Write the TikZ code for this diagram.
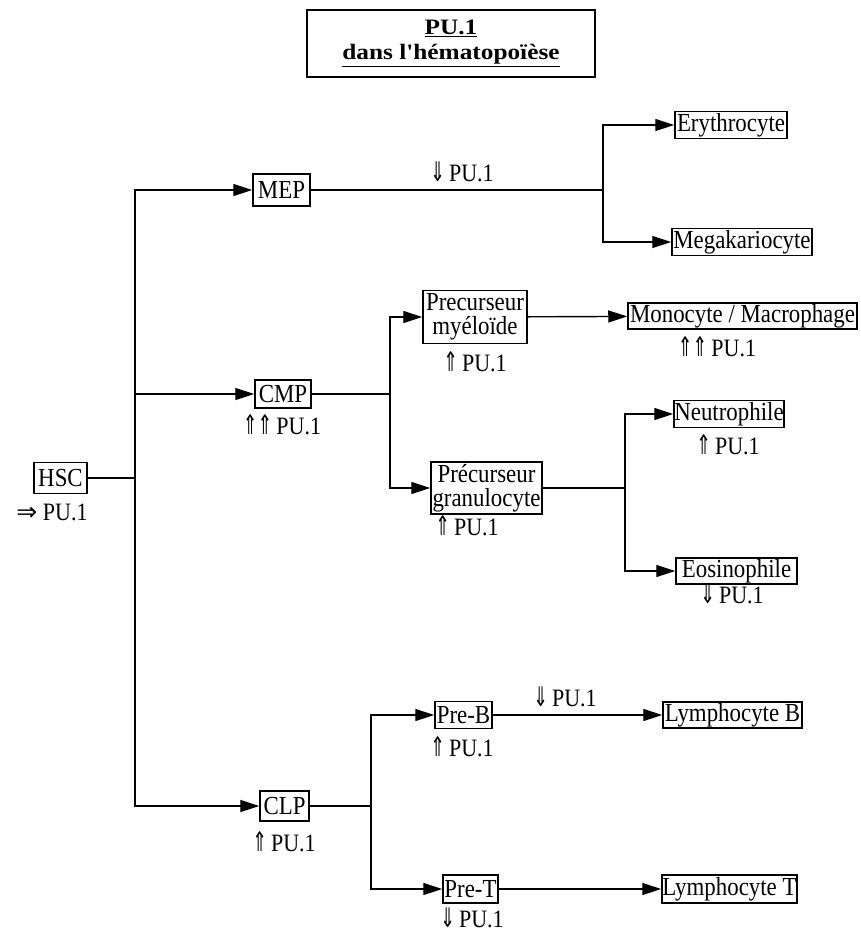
\documentclass[tikz,border=0pt]{standalone}
\usepackage{fontspec}
\setmainfont{Liberation Serif}[FakeStretch=0.88]
\newfontfamily\arrnarrow{DejaVu Sans}[FakeStretch=0.65]
\newfontfamily\arrwide{DejaVu Sans}
\newfontfamily\titlefont{Liberation Serif}[FakeStretch=1.15]
\usetikzlibrary{arrows.meta}
\newcommand{\myup}{{\fontsize{27}{25}\selectfont\arrnarrow ⇑}}
\newcommand{\mydn}{{\fontsize{27}{25}\selectfont\arrnarrow ⇓}}
\newcommand{\myrt}{{\arrwide ⇒}}
\begin{document}
\begin{tikzpicture}[x=1pt,y=-1pt,
  box/.style={draw, line width=1.5pt, inner sep=0pt, align=center, font=\fontsize{26}{24}\selectfont},
  lab/.style={inner sep=0pt, font=\fontsize{25}{25}\selectfont},
  arr/.style={-{Triangle[length=19pt,width=12pt]}, line width=1.4pt},
  ln/.style={line width=1.4pt}]
\useasboundingbox (0,0) rectangle (861,935);

% title
\node[draw, line width=2.5pt, minimum width=288, minimum height=67, inner sep=0pt,
      align=center, font=\fontsize{22}{25}\selectfont\titlefont\bfseries]
      (title) at (451,43.5) {\underline{PU.1}\\\underline{dans l'hématopoïèse}};

% nodes
\node[box, minimum width=53, minimum height=31] (hsc) at (60.5,478) {HSC};
\node[box, minimum width=57, minimum height=32] (mep) at (281.5,190) {MEP};
\node[box, minimum width=56, minimum height=28] (cmp) at (283,394) {CMP};
\node[box, minimum width=49, minimum height=30] (clp) at (284.5,806) {CLP};
\node[box, minimum width=104, minimum height=53] (pm) at (475,317) {Precurseur\\myéloïde};
\node[box, minimum width=111, minimum height=52] (pg) at (486.5,488) {Précurseur\\granulocyte};
\node[box, minimum width=112, minimum height=27] (ery) at (731,125) {Erythrocyte};
\node[box, minimum width=140, minimum height=27] (meg) at (742,242) {Megakariocyte};
\node[box, minimum width=229, minimum height=26] (mono) at (742.5,316) {Monocyte / Macrophage};
\node[box, minimum width=110, minimum height=27] (neu) at (729,414) {Neutrophile};
\node[box, minimum width=121, minimum height=26] (eos) at (736.5,571) {Eosinophile};
\node[box, minimum width=57, minimum height=27] (preb) at (463.5,715) {Pre-B};
\node[box, minimum width=139, minimum height=26] (lymb) at (732.5,715) {Lymphocyte B};
\node[box, minimum width=55, minimum height=28] (pret) at (470.5,889) {Pre-T};
\node[box, minimum width=135, minimum height=28] (lymt) at (729.5,889) {Lymphocyte T};

% junctions
\coordinate (jh) at (135,478);
\coordinate (jm) at (603,190);
\coordinate (jc) at (390,394);
\coordinate (jg) at (625,488);
\coordinate (jl) at (371,806);

% connectors
\draw[ln] (hsc) -- (jh);
\draw[arr] (jh) |- (mep);
\draw[arr] (jh) |- (cmp);
\draw[arr] (jh) |- (clp);

\draw[ln] (mep) -- (jm);
\draw[arr] (jm) |- (ery);
\draw[arr] (jm) |- (meg);

\draw[ln] (cmp) -- (jc);
\draw[arr] (jc) |- (pm);
\draw[arr] (jc) |- (pg);
\draw[arr] (pm) -- (mono);
\draw[ln] (pg) -- (jg);
\draw[arr] (jg) |- (neu);
\draw[arr] (jg) |- (eos);

\draw[ln] (clp) -- (jl);
\draw[arr] (jl) |- (preb);
\draw[arr] (jl) |- (pret);
\draw[arr] (preb) -- (lymb);
\draw[arr] (pret) -- (lymt);

% labels
\node[lab] (lhsc) at (52,512) {\myrt\ PU.1};
\node[lab] (lmep) at (462,172) {\mydn\,PU.1};
\node[lab] (lcmp) at (282,425) {\myup\myup\,PU.1};
\node[lab] (lpm) at (475,362) {\myup\,PU.1};
\node[lab] (lmono) at (717,347) {\myup\myup\,PU.1};
\node[lab] (lpg) at (467,526) {\myup\,PU.1};
\node[lab] (lneu) at (728,445) {\myup\,PU.1};
\node[lab] (leos) at (732,594) {\mydn\,PU.1};
\node[lab] (lclp) at (284,842) {\myup\,PU.1};
\node[lab] (lpreb2) at (565,697) {\mydn\,PU.1};
\node[lab] (lpreb) at (462,747) {\myup\,PU.1};
\node[lab] (lpret) at (472,918) {\mydn\,PU.1};
\end{tikzpicture}
\end{document}
